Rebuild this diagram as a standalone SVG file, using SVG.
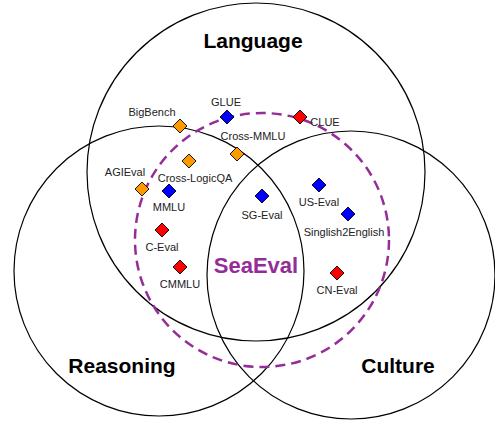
<svg xmlns="http://www.w3.org/2000/svg" width="495" height="421" viewBox="0 0 495 421">
<style>
.set{fill:none;stroke:#000;stroke-width:1.2}
.big{font-family:"Liberation Sans",Arial,sans-serif;font-weight:bold;font-size:21px;fill:#000;text-anchor:middle}
.lbl{font-family:"Liberation Sans",Arial,sans-serif;font-size:11px;fill:#222;text-anchor:middle}
.d{stroke:#000;stroke-width:0.9}
.o{fill:#FF9900}.b{fill:#0000FF}.r{fill:#FF0000}
</style>
<defs>
<path id="dm" d="M0,-7 L7,0 L0,7 L-7,0 Z"/>
</defs>
<rect width="495" height="421" fill="#fff"/>
<g id="sets">
<circle id="language" class="set" cx="256" cy="172" r="169"/>
<circle id="reasoning" class="set" cx="159" cy="271" r="145"/>
<circle id="culture" class="set" cx="351" cy="275" r="144"/>
</g>
<g id="seaeval">
<circle cx="262" cy="240" r="127" fill="none" stroke="#952d98" stroke-width="2.5" stroke-dasharray="10,6"/>
<text x="256" y="273" font-family="Liberation Sans,Arial,sans-serif" font-weight="bold" font-size="22" fill="#952d98" text-anchor="middle">SeaEval</text>
</g>
<text class="big" x="253" y="48">Language</text>
<text class="big" x="122" y="373">Reasoning</text>
<text class="big" x="398" y="373">Culture</text>
<g id="connectors"></g>
<g id="bigbench"><use href="#dm" x="180" y="126" class="d o"/><text class="lbl" x="152" y="116">BigBench</text></g>
<g id="glue"><use href="#dm" x="227" y="117" class="d b"/><text class="lbl" x="226" y="106">GLUE</text></g>
<g id="clue"><use href="#dm" x="300" y="117" class="d r"/><text class="lbl" x="325" y="126">CLUE</text></g>
<g id="crossmmlu"><use href="#dm" x="237" y="154" class="d o"/><text class="lbl" x="253" y="140">Cross-MMLU</text></g>
<g id="crosslogicqa"><use href="#dm" x="189" y="161" class="d o"/><text class="lbl" x="195" y="182">Cross-LogicQA</text></g>
<g id="agieval"><use href="#dm" x="142" y="189" class="d o"/><text class="lbl" x="125" y="176">AGIEval</text></g>
<g id="mmlu"><use href="#dm" x="169" y="191" class="d b"/><text class="lbl" x="169" y="211">MMLU</text></g>
<g id="sgeval"><use href="#dm" x="262" y="196" class="d b"/><text class="lbl" x="262" y="219">SG-Eval</text></g>
<g id="useval"><use href="#dm" x="319" y="185" class="d b"/><text class="lbl" x="319" y="206">US-Eval</text></g>
<g id="singlish2english"><use href="#dm" x="348" y="214" class="d b"/><text class="lbl" x="344" y="236">Singlish2English</text></g>
<g id="ceval"><use href="#dm" x="162" y="230" class="d r"/><text class="lbl" x="162" y="251">C-Eval</text></g>
<g id="cmmlu"><use href="#dm" x="180" y="267" class="d r"/><text class="lbl" x="180" y="288">CMMLU</text></g>
<g id="cneval"><use href="#dm" x="337" y="273" class="d r"/><text class="lbl" x="337" y="294">CN-Eval</text></g>
</svg>
